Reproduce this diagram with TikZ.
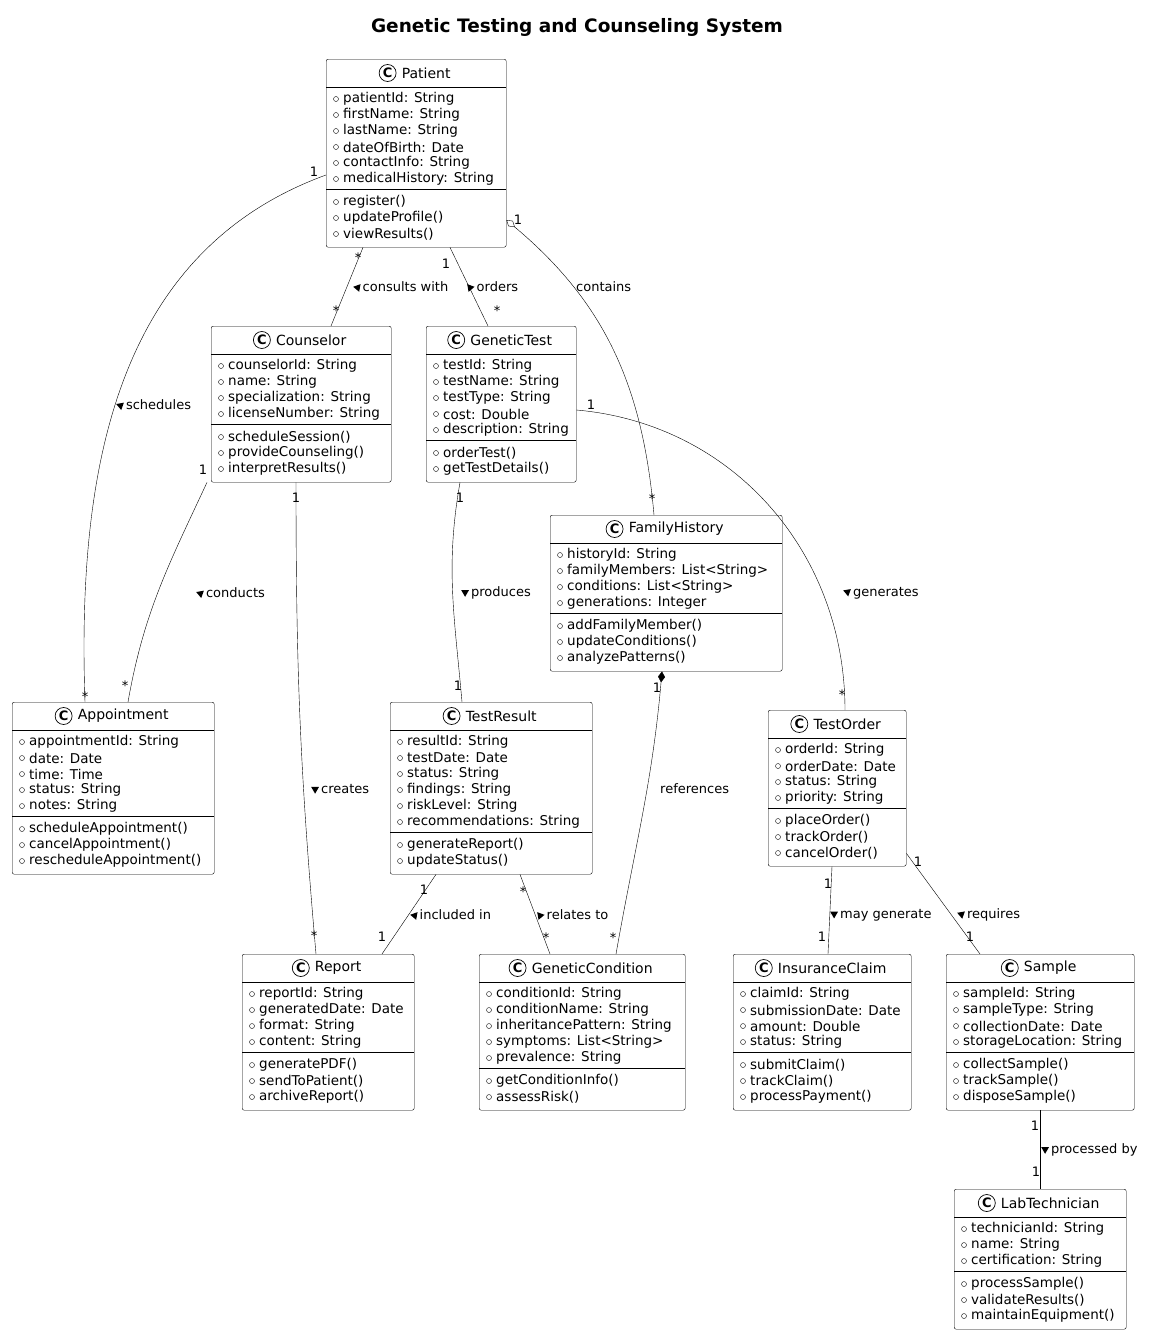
\documentclass[tikz,border=0pt]{standalone}
\usepackage{fontspec}
\setmainfont{DejaVu Sans}
\usetikzlibrary{calc}
\usetikzlibrary{arrows.meta}

\tikzset{
  cls/.style={draw, rounded corners=2pt, inner sep=0pt, fill=white},
  mem/.style={anchor=west, inner sep=0pt, font=\fontsize{13.5}{15}\selectfont},
  mult/.style={inner sep=0pt, font=\fontsize{13}{15}\selectfont},
  lbl/.style={anchor=west, inner sep=0pt, font=\fontsize{13}{15}\selectfont},
}

% small filled triangle for association direction
\newcommand\tri[1]{\tikz[baseline=-0.6ex]\fill[rotate=#1] (0:4.5pt) -- (120:4.5pt) -- (240:4.5pt) -- cycle;}

% class box: name, north west, width, title, attributes, methods
\newcommand\umlclass[6]{%
  \def\nA{0}\foreach \s [count=\i] in {#5}{\xdef\nA{\i}}%
  \def\nM{0}\foreach \s [count=\i] in {#6}{\xdef\nM{\i}}%
  \pgfmathsetmacro\hA{\nA*16+6}%
  \pgfmathsetmacro\hM{\nM*16+10}%
  \pgfmathsetmacro\hT{28+\hA+\hM}%
  \node[cls, minimum width=#3pt, minimum height=\hT pt, anchor=north west] (#1) at (#2) {};
  \node[font=\fontsize{14}{16}\selectfont, inner sep=0pt] (#1-t) at ($(#1.north)+(10,-14)$) {#4};
  \draw[line width=0.7pt] ($(#1-t.west)+(-14,0)$) circle (8.5pt) node[font=\fontsize{13}{15}\selectfont\bfseries] {C};
  \draw ($(#1.north west)+(0,-28)$) -- ++(#3,0);
  \draw ($(#1.north west)+(0,-28-\hA)$) -- ++(#3,0);
  \foreach \s [count=\i] in {#5}{%
    \pgfmathsetmacro\yy{-40-(\i-1)*16}
    \draw ($(#1.north west)+(10,\yy)$) circle (2.5pt);
    \node[mem] at ($(#1.north west)+(17,\yy)$) {\s};}
  \foreach \s [count=\i] in {#6}{%
    \pgfmathsetmacro\yy{-28-\hA-13-(\i-1)*16}
    \draw ($(#1.north west)+(10,\yy)$) circle (2.5pt);
    \node[mem] at ($(#1.north west)+(17,\yy)$) {\s};}
}

\begin{document}
\begin{tikzpicture}[x=1pt, y=1pt]
  \useasboundingbox (0,0) rectangle (1155,-1344);
  \node[font=\fontsize{18.5}{22}\selectfont\bfseries] (title) at (577,-27) {Genetic Testing and Counseling System};

  % Classes
  \umlclass{Patient}{326,-59}{180}{Patient}
    {patientId: String,firstName: String,lastName: String,dateOfBirth: Date,contactInfo: String,medicalHistory: String}
    {register(),updateProfile(),viewResults()}
  \umlclass{Counselor}{211,-326}{180}{Counselor}
    {counselorId: String,name: String,specialization: String,licenseNumber: String}
    {scheduleSession(),provideCounseling(),interpretResults()}
  \umlclass{GeneticTest}{426,-326}{150}{GeneticTest}
    {testId: String,testName: String,testType: String,cost: Double,description: String}
    {orderTest(),getTestDetails()}
  \umlclass{FamilyHistory}{550,-515}{232}{FamilyHistory}
    {historyId: String,familyMembers: List<String>,conditions: List<String>,generations: Integer}
    {addFamilyMember(),updateConditions(),analyzePatterns()}
  \umlclass{Appointment}{12,-702}{202}{Appointment}
    {appointmentId: String,date: Date,time: Time,status: String,notes: String}
    {scheduleAppointment(),cancelAppointment(),rescheduleAppointment()}
  \umlclass{TestResult}{390,-702}{202}{TestResult}
    {resultId: String,testDate: Date,status: String,findings: String,riskLevel: String,recommendations: String}
    {generateReport(),updateStatus()}
  \umlclass{TestOrder}{768,-710}{138}{TestOrder}
    {orderId: String,orderDate: Date,status: String,priority: String}
    {placeOrder(),trackOrder(),cancelOrder()}
  \umlclass{Report}{242,-954}{172}{Report}
    {reportId: String,generatedDate: Date,format: String,content: String}
    {generatePDF(),sendToPatient(),archiveReport()}
  \umlclass{GeneticCondition}{479,-954}{206}{GeneticCondition}
    {conditionId: String,conditionName: String,inheritancePattern: String,symptoms: List<String>,prevalence: String}
    {getConditionInfo(),assessRisk()}
  \umlclass{InsuranceClaim}{733,-954}{178}{InsuranceClaim}
    {claimId: String,submissionDate: Date,amount: Double,status: String}
    {submitClaim(),trackClaim(),processPayment()}
  \umlclass{Sample}{946,-954}{188}{Sample}
    {sampleId: String,sampleType: String,collectionDate: Date,storageLocation: String}
    {collectSample(),trackSample(),disposeSample()}
  \umlclass{LabTechnician}{954,-1189}{172}{LabTechnician}
    {technicianId: String,name: String,certification: String}
    {processSample(),validateResults(),maintainEquipment()}

  % Associations
  \draw ($(Patient.north west)+(0,-116)$) to[out=200,in=92] ($(Appointment.north west)+(73,0)$);
  \draw ($(Patient.south west)+(37,0)$) -- ($(Counselor.north west)+(120,0)$);
  \draw ($(Patient.south west)+(124,0)$) -- ($(GeneticTest.north west)+(62,0)$);
  \draw[{Diamond[open,length=11pt,width=7pt]}-] ($(Patient.north east)+(0,-161)$) to[out=-40,in=95] ($(FamilyHistory.north west)+(104,0)$);
  \draw ($(Counselor.south west)+(-4,0)$) to[out=-115,in=80] ($(Appointment.north west)+(116,0)$);
  \draw ($(Counselor.south west)+(85,0)$) to[out=-90,in=95] ($(Report.north west)+(74,0)$);
  \draw ($(GeneticTest.south west)+(34,0)$) to[out=-100,in=95] ($(TestResult.north west)+(72,0)$);
  \draw ($(GeneticTest.north east)+(0,-84)$) to[out=-5,in=90] ($(TestOrder.north west)+(77,0)$);
  \draw[{Diamond[length=11pt,width=7pt]}-] ($(FamilyHistory.south west)+(112,0)$) to[out=-95,in=80] ($(GeneticCondition.north west)+(137,0)$);
  \draw ($(TestResult.south west)+(46,0)$) -- ($(Report.north west)+(140,0)$);
  \draw ($(TestResult.south west)+(130,0)$) -- ($(GeneticCondition.north west)+(71,0)$);
  \draw ($(TestOrder.south west)+(64,0)$) -- ($(InsuranceClaim.north west)+(95,0)$);
  \draw ($(TestOrder.south east)+(0,13)$) -- ($(Sample.north west)+(34,0)$);
  \draw ($(Sample.south west)+(94,0)$) -- ($(LabTechnician.north west)+(86,0)$);

  % Multiplicities
  \foreach \px/\py/\t [count=\k] in {
    314/-172/1, 85/-697/*, 358/-258/*, 336/-311/*, 446/-264/1, 497/-311/*,
    518/-220/1, 652/-499/*, 203/-470/1, 125/-686/*, 296/-498/1, 314/-936/*,
    460/-498/1, 458/-686/1, 591/-405/1, 842/-695/*, 657/-688/1, 613/-938/*,
    424/-890/1, 382/-937/1, 523/-892/*, 546/-938/*, 828/-884/1, 822/-937/1,
    918/-862/1, 970/-937/1, 1035/-1126/1, 1036/-1172/1}
    \node[mult] (m\k) at (\px,\py) {\t};

  % Association labels
  \foreach \px/\py/\ang/\t [count=\k] in {
    116/-405/-80/schedules, 353/-287/-70/consults with, 467/-287/-110/orders,
    196/-593/-80/conducts, 311/-789/-90/creates, 461/-593/-90/produces,
    843/-593/160/generates, 410/-915/-70/included in, 537/-915/-110/relates to,
    830/-915/-90/may generate, 957/-915/160/requires, 1041/-1150/-90/processed by}
    \node[lbl] (l\k) at (\px,\py) {\tri{\ang}\,\t};
  \node[lbl] (lc) at (576,-287) {contains};
  \node[lbl] (lr) at (660,-789) {references};
\end{tikzpicture}
\end{document}
